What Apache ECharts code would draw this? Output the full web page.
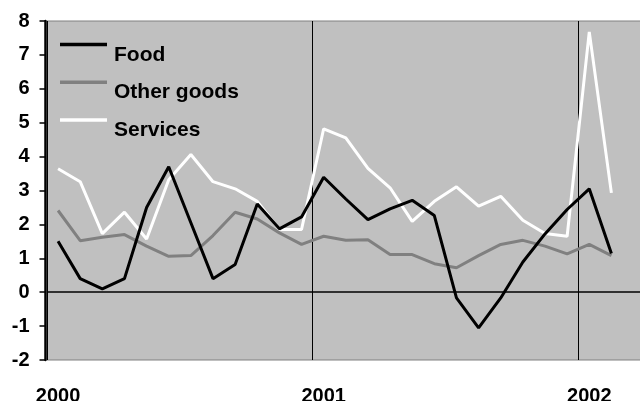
<!DOCTYPE html>
<html>
<head>
<meta charset="utf-8">
<script src="https://cdn.jsdelivr.net/npm/echarts@6/dist/echarts.min.js"></script>
<style>html,body{margin:0;padding:0;background:#fff}#c{width:640px;height:401px}</style>
</head>
<body>
<div id="c"></div>
<script>
const categories = ["2000-01","2000-02","2000-03","2000-04","2000-05","2000-06","2000-07","2000-08","2000-09","2000-10","2000-11","2000-12",
  "2001-01","2001-02","2001-03","2001-04","2001-05","2001-06","2001-07","2001-08","2001-09","2001-10","2001-11","2001-12",
  "2002-01","2002-02","2002-03"];
const food = [1.5, 0.4, 0.1, 0.4, 2.5, 3.7, 2.05, 0.4, 0.82, 2.6, 1.87, 2.22, 3.39, 2.75, 2.14, 2.46, 2.71, 2.26, -0.17, -1.05, -0.17, 0.89, 1.72, 2.44, 3.05, 1.14];
const otherGoods = [2.41, 1.52, 1.62, 1.7, 1.36, 1.06, 1.08, 1.67, 2.36, 2.16, 1.75, 1.41, 1.65, 1.53, 1.55, 1.11, 1.11, 0.84, 0.72, 1.08, 1.41, 1.53, 1.36, 1.13, 1.41, 1.08];
const services = [3.64, 3.26, 1.73, 2.36, 1.57, 3.32, 4.06, 3.26, 3.05, 2.68, 1.85, 1.85, 4.82, 4.55, 3.65, 3.08, 2.09, 2.68, 3.11, 2.54, 2.83, 2.12, 1.73, 1.65, 7.68, 2.93];
const seriesNames = ["Food", "Other goods", "Services"];
const yTicks = { min: -2, max: 8, interval: 1 };

const chart = echarts.init(document.getElementById('c'), null, { renderer: 'canvas' });
const font = 'Liberation Sans, Arial, sans-serif';
const yearTick = (i) => i % 12 === 0;
chart.setOption({
  animation: false,
  grid: { left: 47, top: 21, width: 597.6, height: 339, show: true, backgroundColor: '#c0c0c0', borderColor: '#808080', borderWidth: 1, outerBoundsMode: 'none', containLabel: false },
  legend: {
    orient: 'vertical', left: 60, top: 23.5, padding: 0, itemGap: -4.3,
    itemWidth: 47, itemHeight: 3.5, icon: 'rect',
    formatter: name => '{a|' + name + '}',
    textStyle: {
      fontFamily: font, fontWeight: 'bold', fontSize: 21, color: '#000',
      rich: { a: { fontFamily: font, fontWeight: 'bold', fontSize: 21, color: '#000', lineHeight: 18, padding: [21, 0, 0, 2] } }
    },
    data: seriesNames
  },
  xAxis: {
    type: 'category', data: categories, boundaryGap: true,
    axisLine: { show: false }, axisTick: { show: false },
    axisLabel: { interval: yearTick, formatter: v => v.slice(0, 4), fontFamily: font, fontWeight: 'bold', fontSize: 20, color: '#000', margin: 26 },
    splitLine: { show: true, interval: yearTick, lineStyle: { color: '#000', width: 1 } }
  },
  yAxis: {
    type: 'value', min: yTicks.min, max: yTicks.max, interval: yTicks.interval, offset: 1.5,
    axisLine: { show: true, lineStyle: { color: '#000', width: 2.5 } },
    axisTick: { show: true, length: 6, lineStyle: { color: '#000', width: 1.5 } },
    axisLabel: { fontFamily: font, fontWeight: 'bold', fontSize: 20, color: '#000', margin: 16 },
    splitLine: { show: false }
  },
  series: [
    { name: seriesNames[0], type: 'line', data: food, showSymbol: false, symbol: 'none', lineStyle: { color: '#000', width: 3 }, itemStyle: { color: '#000' }, z: 4,
      markLine: { silent: true, symbol: ['none', 'none'], label: { show: false }, lineStyle: { color: '#000', type: 'solid', width: 1.5 }, data: [{ yAxis: 0 }], z: 1 } },
    { name: seriesNames[1], type: 'line', data: otherGoods, showSymbol: false, symbol: 'none', lineStyle: { color: '#808080', width: 3 }, itemStyle: { color: '#808080' }, z: 3 },
    { name: seriesNames[2], type: 'line', data: services, showSymbol: false, symbol: 'none', lineStyle: { color: '#ffffff', width: 3 }, itemStyle: { color: '#ffffff' }, z: 2 }
  ]
});
</script>
</body>
</html>
